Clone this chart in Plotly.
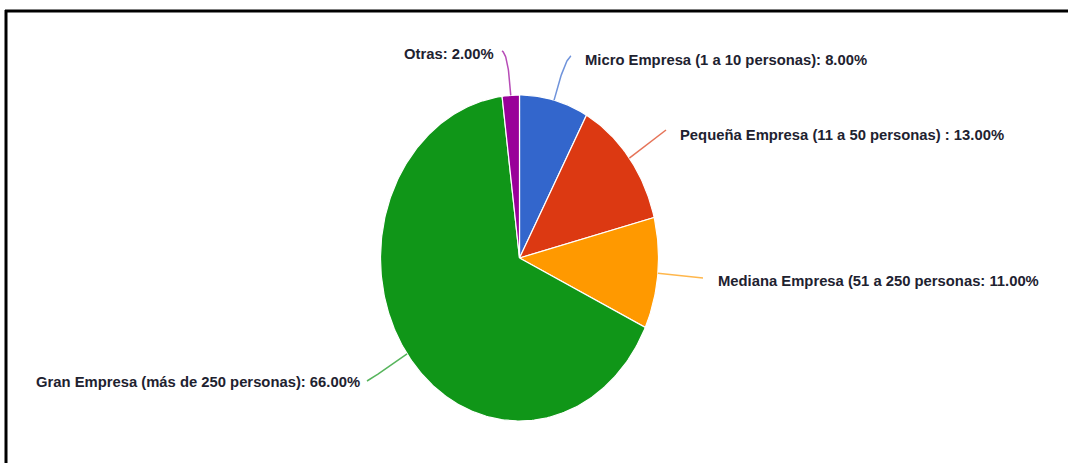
import numpy as np
import plotly.graph_objects as go

# Data
categories = [
    "Micro Empresa (1 a 10 personas)",
    "Pequeña Empresa (11 a 50 personas) ",
    "Mediana Empresa (51 a 250 personas",
    "Gran Empresa (más de 250 personas)",
    "Otras",
]
values = [8.0, 13.0, 11.0, 66.0, 2.0]
colors = ["#3366cc", "#dc3912", "#ff9900", "#109618", "#990099"]

# Layout constants (page pixels)
W, H = 1068, 463
CX, CY = 519.5, 258.0
RX, RY = 139.0, 163.0
# label anchor: (x, y, xanchor)
label_pos = [
    (583, 60, "left"),
    (678, 135, "left"),
    (716, 281, "left"),
    (362, 382, "right"),
    (496, 54, "right"),
]
leader_end = [(571, 56), (666, 130), (703, 278), (367, 381), (502, 51)]
leader_pull = [42, 34, 30, 30, 42]


def ellipse_pt(theta):
    # theta measured clockwise from 12 o'clock
    return CX + RX * np.sin(theta), CY - RY * np.cos(theta)


fig = go.Figure()

total = sum(values)
start = 0.0
for cat, v, col, pos, end, pull in zip(categories, values, colors,
                                       label_pos, leader_end, leader_pull):
    a0 = 2 * np.pi * start / total
    a1 = 2 * np.pi * (start + v) / total
    t = np.linspace(a0, a1, max(8, int(v * 4)))
    ex, ey = ellipse_pt(t)
    xs = np.concatenate([[CX], ex, [CX]])
    ys = np.concatenate([[CY], ey, [CY]])
    fig.add_trace(go.Scatter(
        x=xs, y=ys, mode="lines", fill="toself", fillcolor=col,
        line=dict(color="white", width=1.2), hoverinfo="skip",
        showlegend=False,
    ))

    # curved leader line from the slice edge to its label
    am = (a0 + a1) / 2
    sx, sy = ellipse_pt(am)
    ux, uy = np.sin(am), -np.cos(am)
    qx, qy = sx + ux * pull, sy + uy * pull
    s = np.linspace(0, 1, 30)
    lx = (1 - s) ** 2 * sx + 2 * (1 - s) * s * qx + s ** 2 * end[0]
    ly = (1 - s) ** 2 * sy + 2 * (1 - s) * s * qy + s ** 2 * end[1]
    fig.add_trace(go.Scatter(
        x=lx, y=ly, mode="lines", line=dict(color=col, width=1.5),
        opacity=0.7, hoverinfo="skip", showlegend=False,
    ))

    fig.add_annotation(
        x=pos[0], y=pos[1], xref="x", yref="y", xanchor=pos[2],
        yanchor="middle", showarrow=False,
        text=f"<b>{cat}: {v:.2f}%</b>",
        font=dict(family="Liberation Sans, Arial, sans-serif", size=14.8,
                  color="#1e2230"),
    )
    start += v

# frame lines along the top and left edges
fig.add_shape(type="line", x0=5, x1=W, y0=11, y1=11, xref="x", yref="y",
              line=dict(color="black", width=3))
fig.add_shape(type="line", x0=6, x1=6, y0=10, y1=H, xref="x", yref="y",
              line=dict(color="black", width=3))

fig.update_xaxes(range=[0, W], visible=False, fixedrange=True)
fig.update_yaxes(range=[H, 0], visible=False, fixedrange=True)
fig.update_layout(
    width=W, height=H,
    margin=dict(l=0, r=0, t=0, b=0),
    paper_bgcolor="white", plot_bgcolor="white",
    showlegend=False,
)

fig.write_html("out.html")
